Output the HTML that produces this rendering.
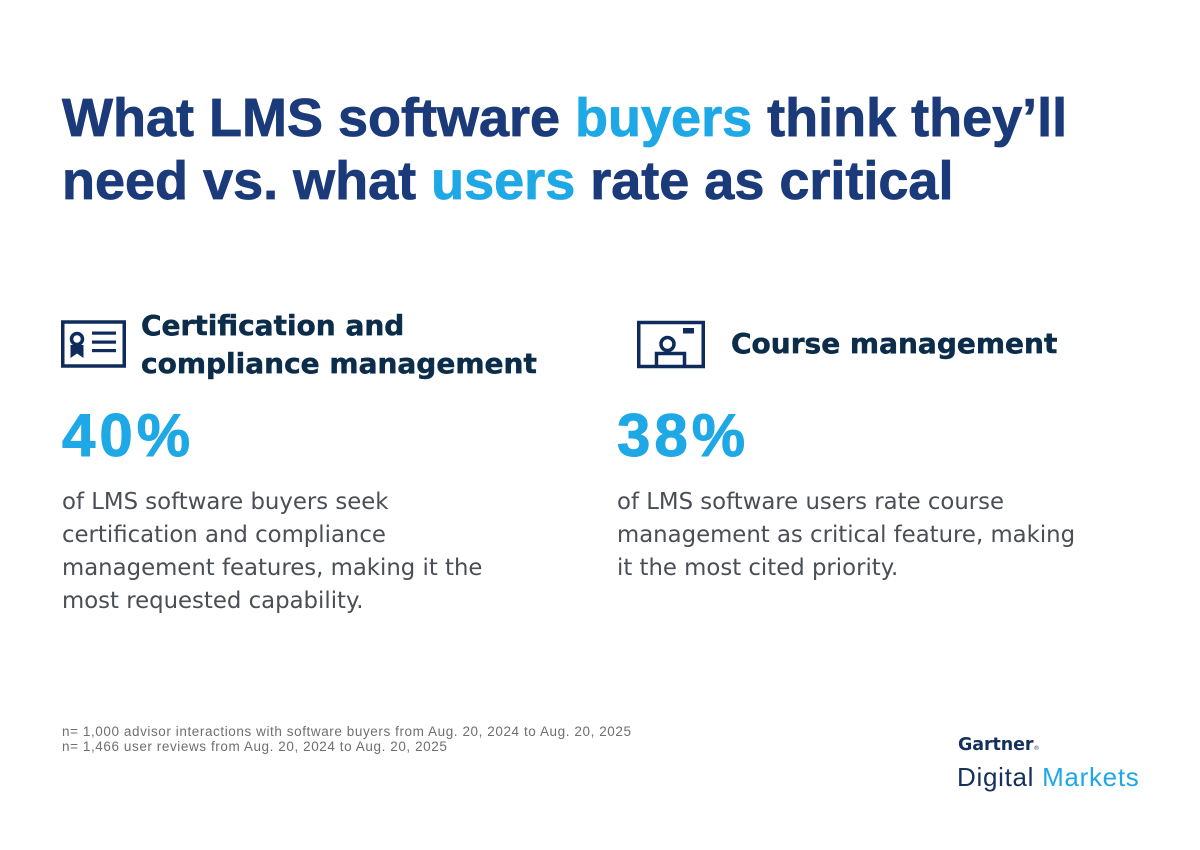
<!DOCTYPE html>
<html>
<head>
<meta charset="utf-8">
<style>
  html, body { margin: 0; padding: 0; }
  body { width: 1200px; height: 850px; background: #ffffff; position: relative; overflow: hidden; }
  .abs { position: absolute; white-space: nowrap; }
  .title { left: 62px; top: 87px; font-family: "Liberation Sans", Arial, sans-serif; font-weight: 700; font-size: 54px; line-height: 63px; color: #1b3a7a; -webkit-text-stroke: 0.8px #1b3a7a; }
  .title .blue { -webkit-text-stroke: 0.8px #1ea8e5; }
  .blue { color: #1ea8e5; }
  .head { font-family: "DejaVu Sans", "Liberation Sans", sans-serif; font-weight: 700; font-size: 28px; line-height: 38px; color: #0c2d4a; -webkit-text-stroke: 0.5px #0c2d4a; }
  .pct { font-family: "Liberation Sans", Arial, sans-serif; font-weight: 700; font-size: 60px; line-height: 60px; color: #1ea8e5; letter-spacing: 4px; -webkit-text-stroke: 1px #1ea8e5; }
  .body { font-family: "DejaVu Sans", "Liberation Sans", sans-serif; font-size: 22.8px; line-height: 33px; color: #4a4e55; }
  .foot { left: 62px; top: 724px; font-family: "Liberation Sans", Arial, sans-serif; font-size: 13.5px; line-height: 15px; color: #6f6f6f; letter-spacing: 0.58px; }
</style>
</head>
<body>

<div class="abs title">What LMS software <span class="blue">buyers</span> think they’ll<br>need vs. what <span class="blue">users</span> rate as critical</div>

<svg class="abs" style="left:0;top:0" width="1200" height="850" viewBox="0 0 1200 850">
  <g fill="none" stroke="#0f2b5b" stroke-width="3.5">
    <rect x="62.75" y="322" width="61.5" height="44" />
    <circle cx="77" cy="339" r="5.5" />
    <rect x="638.75" y="322.5" width="64.5" height="44" />
    <circle cx="667.5" cy="344" r="6.5" />
    <path d="M656.5 368 V353.5 H684.5 V368" />
  </g>
  <g fill="#0f2b5b">
    <path d="M70.5 345 L70.5 358 L77 353.5 L83.5 358 L83.5 345 Z" />
    <rect x="92" y="331.5" width="24" height="3.2" />
    <rect x="92" y="340.5" width="24" height="3.2" />
    <rect x="92" y="349" width="24" height="3.2" />
    <rect x="683" y="328" width="11" height="5.5" />
  </g>
</svg>

<div class="abs head" style="left:141px; top:307px;">Certification and<br>compliance management</div>
<div class="abs head" style="left:731px; top:325px;">Course management</div>

<div class="abs pct" style="left:62px; top:406px;">40%</div>
<div class="abs pct" style="left:617px; top:406px;">38%</div>

<div class="abs body" style="left:62px; top:486px;">of LMS software buyers seek<br>certification and compliance<br>management features, making it the<br>most requested capability.</div>
<div class="abs body" style="left:617px; top:486px;">of LMS software users rate course<br>management as critical feature, making<br>it the most cited priority.</div>

<div class="abs foot">n= 1,000 advisor interactions with software buyers from Aug. 20, 2024 to Aug. 20, 2025<br>n= 1,466 user reviews from Aug. 20, 2024 to Aug. 20, 2025</div>

<div class="abs" style="left:958px; top:734px; font-family:'DejaVu Sans','Liberation Sans',sans-serif; font-weight:700; font-size:17.5px; line-height:22px; color:#16305c; letter-spacing:-0.1px;">Gartner<span style="font-size:6px; font-weight:400; letter-spacing:0;">®</span></div>
<div class="abs" style="left:957px; top:762px; font-family:'Liberation Sans',Arial,sans-serif; font-size:26px; line-height:30px; color:#16305c; letter-spacing:0.7px;">Digital <span style="color:#1ea8e5;">Markets</span></div>

</body>
</html>
